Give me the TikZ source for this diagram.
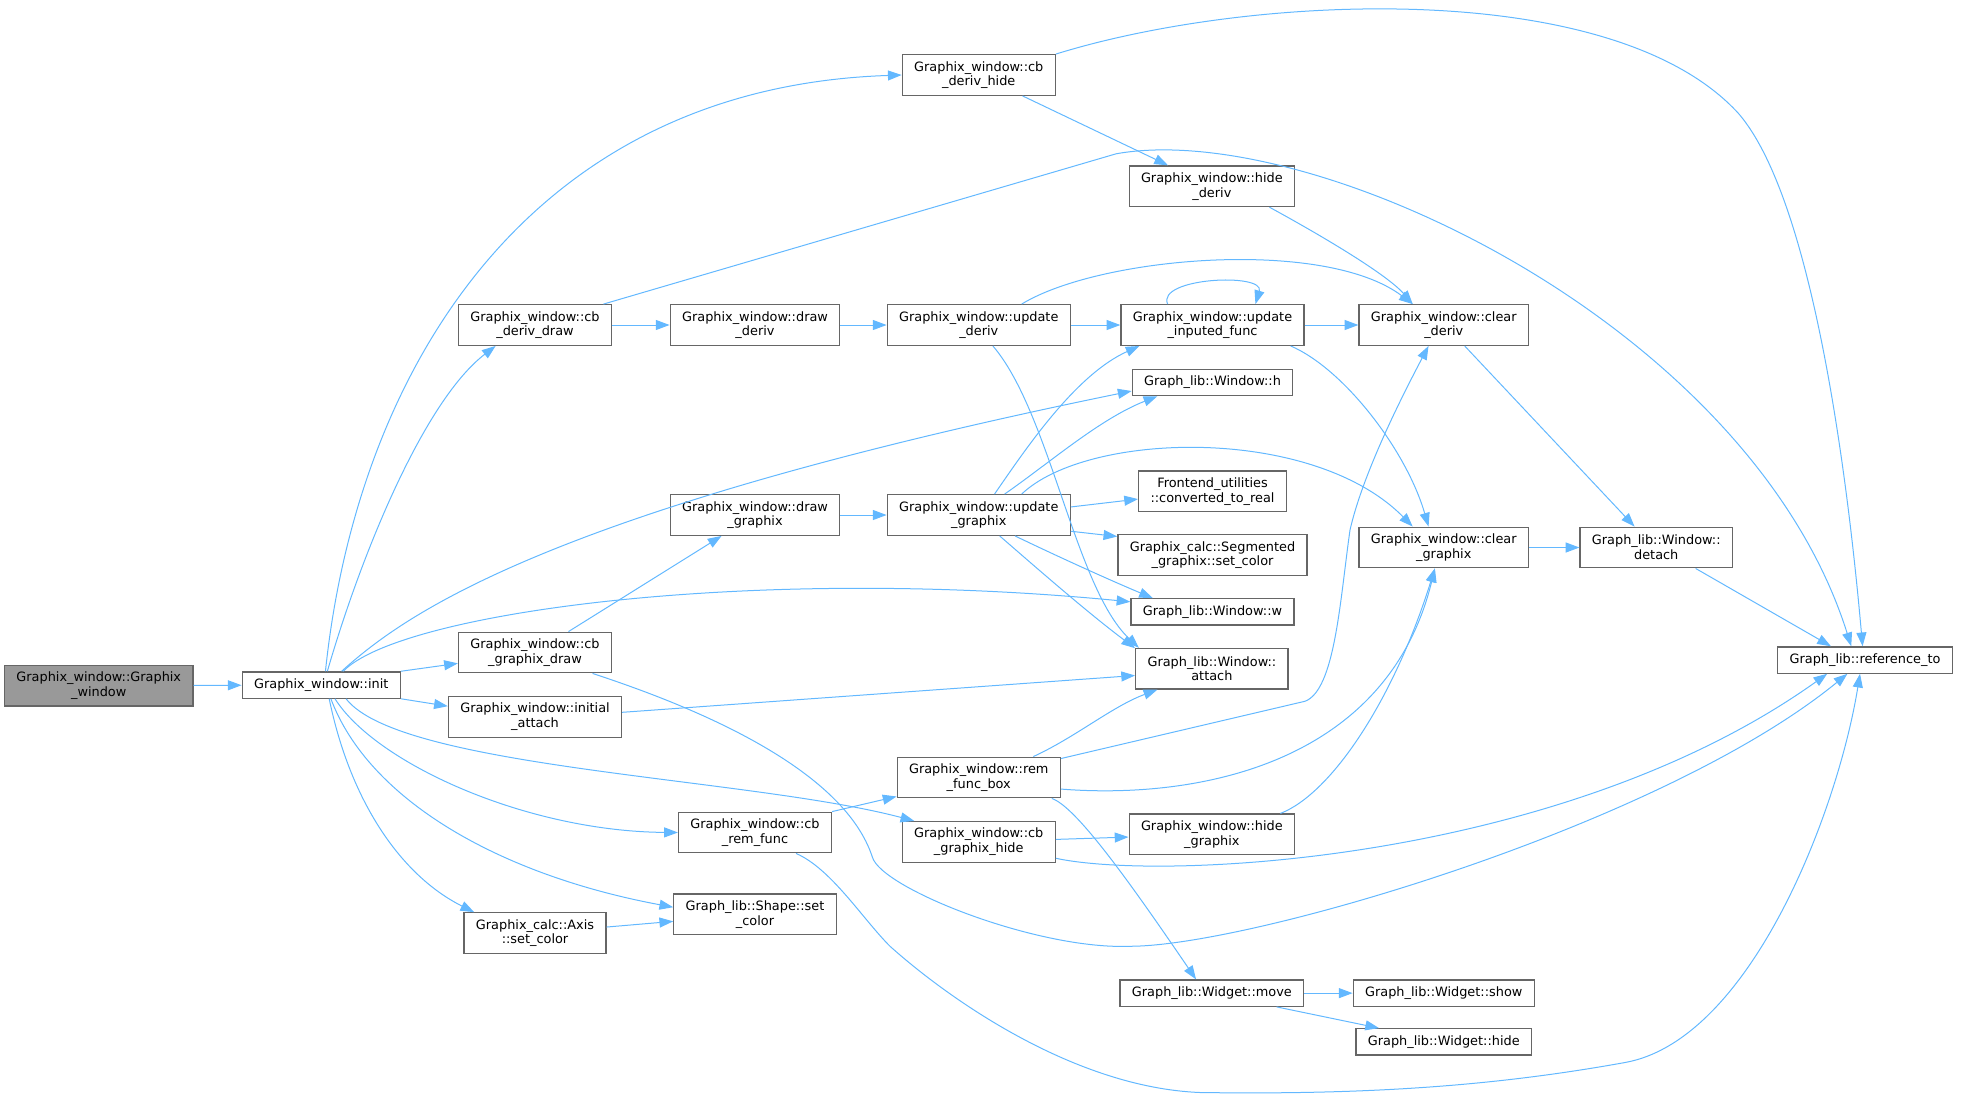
\documentclass[tikz,border=0pt]{standalone}
\usepackage{fontspec}
\setmainfont{DejaVu Sans}
\usepackage{xcolor}
\usetikzlibrary{arrows.meta, positioning}
\definecolor{edgeblue}{HTML}{63B8FF}
\definecolor{boxgrey}{HTML}{666666}
\definecolor{rootgrey}{HTML}{999999}
\tikzset{
  callblock/.style={
    rectangle, draw=boxgrey, line width=1pt, fill=white, text=black,
    inner xsep=9.5pt, inner ysep=0pt, minimum height=21pt, align=center,
    font=\fontsize{10.3}{11.8}\selectfont
  },
  callblocktwo/.style={
    callblock, minimum height=32.5pt
  },
  rootblock/.style={
    callblocktwo, fill=rootgrey
  },
  callarrow/.style={
    draw=edgeblue, line width=0.8pt, ->, >={Triangle[length=11pt, width=8pt]}
  }
}
\begin{document}
\begin{tikzpicture}[x=1pt, y=-1pt]
  \useasboundingbox (0,0) rectangle (1568.8,879.2);
  \node[rootblock] (root) at (79,548.5) {Graphix\_window::Graphix\\\_window};
  \node[callblock] (init) at (257,548) {Graphix\_window::init};
  \node[callblocktwo] (cbDerivHide) at (783,60) {Graphix\_window::cb\\\_deriv\_hide};
  \node[callblocktwo] (cbDerivDraw) at (428,260) {Graphix\_window::cb\\\_deriv\_draw};
  \node[callblocktwo] (drawDeriv) at (604,260) {Graphix\_window::draw\\\_deriv};
  \node[callblocktwo] (updateDeriv) at (783,260) {Graphix\_window::update\\\_deriv};
  \node[callblocktwo] (hideDeriv) at (969.5,149) {Graphix\_window::hide\\\_deriv};
  \node[callblocktwo] (updateInputed) at (970,260) {Graphix\_window::update\\\_inputed\_func};
  \node[callblocktwo] (clearDeriv) at (1155,260) {Graphix\_window::clear\\\_deriv};
  \node[callblock] (winH) at (970,306) {Graph\_lib::Window::h};
  \node[callblocktwo] (convReal) at (970,393) {Frontend\_utilities\\::converted\_to\_real};
  \node[callblocktwo] (drawGraphix) at (604,412) {Graphix\_window::draw\\\_graphix};
  \node[callblocktwo] (updateGraphix) at (783,412) {Graphix\_window::update\\\_graphix};
  \node[callblocktwo] (segColor) at (970,444) {Graphix\_calc::Segmented\\\_graphix::set\_color};
  \node[callblocktwo] (clearGraphix) at (1155,438) {Graphix\_window::clear\\\_graphix};
  \node[callblocktwo] (winDetach) at (1325,438) {Graph\_lib::Window::\\detach};
  \node[callblock] (winW) at (970,489.5) {Graph\_lib::Window::w};
  \node[callblocktwo] (winAttach) at (969.5,535) {Graph\_lib::Window::\\attach};
  \node[callblocktwo] (cbGraphixDraw) at (428,522) {Graphix\_window::cb\\\_graphix\_draw};
  \node[callblocktwo] (initialAttach) at (428,573.5) {Graphix\_window::initial\\\_attach};
  \node[callblocktwo] (remFuncBox) at (783,622) {Graphix\_window::rem\\\_func\_box};
  \node[callblocktwo] (cbRemFunc) at (604,666) {Graphix\_window::cb\\\_rem\_func};
  \node[callblocktwo] (cbGraphixHide) at (783,673.5) {Graphix\_window::cb\\\_graphix\_hide};
  \node[callblocktwo] (hideGraphix) at (969.5,667.5) {Graphix\_window::hide\\\_graphix};
  \node[callblocktwo] (shapeColor) at (604,731.5) {Graph\_lib::Shape::set\\\_color};
  \node[callblocktwo] (axisColor) at (428,746.5) {Graphix\_calc::Axis\\::set\_color};
  \node[callblock] (widgetMove) at (969.5,794.5) {Graph\_lib::Widget::move};
  \node[callblock] (widgetShow) at (1155,794.5) {Graph\_lib::Widget::show};
  \node[callblock] (widgetHide) at (1155,833.5) {Graph\_lib::Widget::hide};
  \node[callblock] (referenceTo) at (1492,528) {Graph\_lib::reference\_to};

  \draw[callarrow] (root) -- (init);
  \draw[callarrow] (init.73) .. controls (285,300) and (420,70) .. (cbDerivHide.west);
  \draw[callarrow] (init.66) .. controls (290,440) and (340,320) .. (cbDerivDraw.208);
  \draw[callarrow] (init.34) .. controls (320,495) and (430,410) .. (winH.186);
  \draw[callarrow] (init.32) .. controls (320,490) and (600,452) .. (winW.173);
  \draw[callarrow] (init.north east) -- (cbGraphixDraw.188);
  \draw[callarrow] (init.south east) -- (initialAttach.173);
  \draw[callarrow] (init.-29) .. controls (320,615) and (600,622) .. (cbGraphixHide.162);
  \draw[callarrow] (init.-45) .. controls (300,610) and (420,665) .. (cbRemFunc.west);
  \draw[callarrow] (init.-55) .. controls (295,640) and (400,700) .. (shapeColor.175);
  \draw[callarrow] (init.-60) .. controls (280,640) and (320,700) .. (axisColor.161);
  \draw[callarrow] (cbDerivDraw) -- (drawDeriv);
  \draw[callarrow] (drawDeriv) -- (updateDeriv);
  \draw[callarrow] (updateDeriv) -- (updateInputed);
  \draw[callarrow] (updateInputed) -- (clearDeriv);
  \draw[callarrow] (cbDerivDraw.17) -- (893,123) .. controls (1050,95) and (1400,260) .. (referenceTo.135);
  \draw[callarrow] (cbDerivHide.north east) .. controls (1000,-5) and (1291,-19) .. (1391,91) .. controls (1450,160) and (1478,380) .. (referenceTo.100);
  \draw[callarrow] (cbDerivHide) -- (hideDeriv);
  \draw[callarrow] (hideDeriv.-20) .. controls (1060,190) and (1110,220) .. (clearDeriv.146);
  \draw[callarrow] (updateDeriv.26) .. controls (880,205) and (1060,190) .. (clearDeriv.146);
  \draw[callarrow] (updateDeriv.-56) .. controls (840,330) and (860,470) .. (winAttach.164);
  \draw[callarrow] (updateInputed.155) .. controls (925,222) and (1012,218) .. (updateInputed.26);
  \draw[callarrow] (updateInputed.-15) .. controls (1075,295) and (1125,360) .. (clearGraphix.126);
  \draw[callarrow] (clearDeriv.-45) -- (winDetach.136);
  \draw[callarrow] (clearGraphix) -- (winDetach);
  \draw[callarrow] (winDetach.-28) -- (referenceTo.158);
  \draw[callarrow] (drawGraphix) -- (updateGraphix);
  \draw[callarrow] (cbGraphixDraw) -- (drawGraphix);
  \draw[callarrow] (cbGraphixDraw.-20) .. controls (600,580) and (680,630) .. (698,686) .. controls (706,711) and (830,760) .. (904,757) .. controls (1000,757) and (1330,660) .. (referenceTo.218);
  \draw[callarrow] (updateGraphix.53) .. controls (820,360) and (860,300) .. (updateInputed.196);
  \draw[callarrow] (updateGraphix.39) .. controls (840,370) and (880,335) .. (winH.194);
  \draw[callarrow] (updateGraphix.26) .. controls (870,345) and (1050,340) .. (clearGraphix.146);
  \draw[callarrow] (updateGraphix.5) -- (convReal.186);
  \draw[callarrow] (updateGraphix.-10) -- (segColor.169);
  \draw[callarrow] (updateGraphix.-30) .. controls (850,447) and (890,465) .. (winW.167);
  \draw[callarrow] (updateGraphix.-45) .. controls (830,455) and (870,490) .. (winAttach.165);
  \draw[callarrow] (initialAttach.3) -- (winAttach.185);
  \draw[callarrow] (remFuncBox.21) .. controls (860,590) and (890,565) .. (winAttach.201);
  \draw[callarrow] (remFuncBox.13) -- (1044,561) .. controls (1068,552) and (1072,480) .. (1080,424) .. controls (1090,380) and (1120,320) .. (clearDeriv.234);
  \draw[callarrow] (remFuncBox.-8) .. controls (960,640) and (1110,610) .. (clearGraphix.247);
  \draw[callarrow] (remFuncBox.-16) .. controls (860,645) and (900,700) .. (widgetMove.139);
  \draw[callarrow] (cbRemFunc.north east) -- (remFuncBox.193);
  \draw[callarrow] (cbRemFunc.-27) .. controls (665,695) and (690,735) .. (712,757) .. controls (760,800) and (860,870) .. (960,874) .. controls (1100,876) and (1200,868) .. (1300,850) .. controls (1400,832) and (1470,650) .. (referenceTo.250);
  \draw[callarrow] (cbGraphixHide) -- (hideGraphix);
  \draw[callarrow] (cbGraphixHide.-12) .. controls (930,705) and (1250,690) .. (referenceTo.200);
  \draw[callarrow] (hideGraphix.17) .. controls (1065,635) and (1115,560) .. (clearGraphix.247);
  \draw[callarrow] (axisColor) -- (shapeColor);
  \draw[callarrow] (widgetMove) -- (widgetShow);
  \draw[callarrow] (widgetMove.-12) -- (widgetHide.168);
\end{tikzpicture}
\end{document}
